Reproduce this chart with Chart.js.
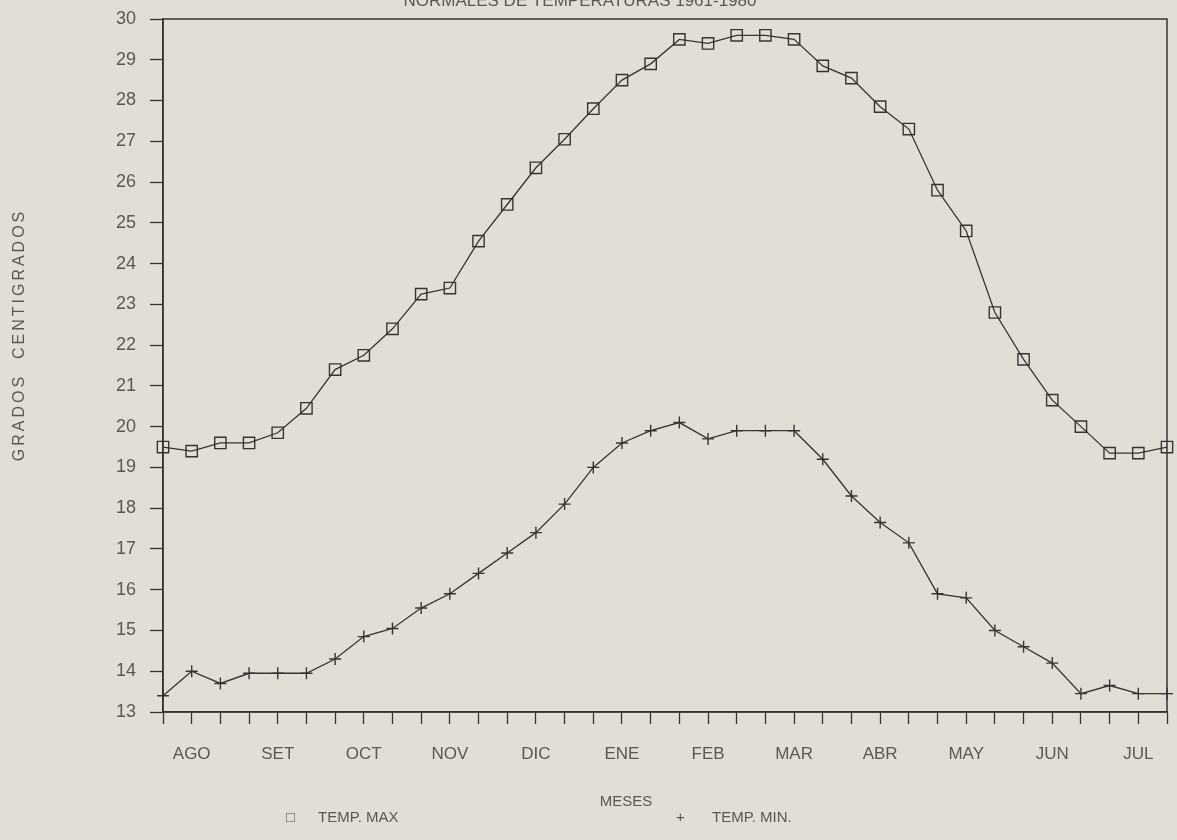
<!DOCTYPE html>
<html>
<head>
<meta charset="utf-8">
<title>Normales de temperaturas</title>
<script src="https://cdn.jsdelivr.net/npm/chart.js@4"></script>
<style>
  html, body { margin: 0; padding: 0; background: #e2ded5; }
  #chart { display: block; }
</style>
</head>
<body>
<canvas id="chart" width="1177" height="840"></canvas>
<script>
// ─── Data ─────────────────────────────────────────────────────────────────────
const months = ['AGO', 'SET', 'OCT', 'NOV', 'DIC', 'ENE', 'FEB', 'MAR', 'ABR', 'MAY', 'JUN', 'JUL'];

// three decades per month, month name sits on the middle one
const decadeLabels = months.flatMap(m => ['', m, '']);

const tempMax = [
  19.5, 19.4, 19.6, 19.6, 19.85, 20.45, 21.4, 21.75, 22.4, 23.25, 23.4, 24.55,
  25.45, 26.35, 27.05, 27.8, 28.5, 28.9, 29.5, 29.4, 29.6, 29.6, 29.5, 28.85,
  28.55, 27.85, 27.3, 25.8, 24.8, 22.8, 21.65, 20.65, 20.0, 19.35, 19.35, 19.5
];

const tempMin = [
  13.4, 14.0, 13.7, 13.95, 13.95, 13.95, 14.3, 14.85, 15.05, 15.55, 15.9, 16.4,
  16.9, 17.4, 18.1, 19.0, 19.6, 19.9, 20.1, 19.7, 19.9, 19.9, 19.9, 19.2,
  18.3, 17.65, 17.15, 15.9, 15.8, 15.0, 14.6, 14.2, 13.45, 13.65, 13.45, 13.45
];

const yTicks = [13, 14, 15, 16, 17, 18, 19, 20, 21, 22, 23, 24, 25, 26, 27, 28, 29, 30];

// ─── Style ────────────────────────────────────────────────────────────────────
const INK   = '#363432';
const TEXT  = '#5a5854';
const FONT  = "'Liberation Sans', Arial, sans-serif";

// ─── Plugins ──────────────────────────────────────────────────────────────────
const paper = {
  id: 'paper',
  beforeDraw(chart) {
    const { ctx, width, height } = chart;
    ctx.save();
    ctx.fillStyle = '#e2ded5';
    ctx.fillRect(0, 0, width, height);
    ctx.restore();
  },
  afterDatasetsDraw(chart) {
    // frame round the plot
    const { ctx, chartArea: a } = chart;
    ctx.save();
    ctx.strokeStyle = INK;
    ctx.lineWidth = 1.5;
    ctx.strokeRect(a.left, a.top, a.right - a.left, a.bottom - a.top);
    ctx.restore();
  },
  afterDraw(chart) {
    const { ctx } = chart;
    ctx.save();
    ctx.fillStyle = TEXT;
    ctx.textBaseline = 'alphabetic';

    // title, cut by the top edge of the page
    ctx.textAlign = 'center';
    ctx.font = `17px ${FONT}`;
    ctx.fillText('NORMALES DE TEMPERATURAS 1961-1980', 580, 6);

    // x axis title
    ctx.font = `15px ${FONT}`;
    ctx.fillText('MESES', 626, 806);

    // legend
    const ds = chart.data.datasets;
    ctx.textAlign = 'left';
    ctx.font = `15px ${FONT}`;
    ctx.fillText('\u25A1', 286, 822);
    ctx.fillText(ds[0].label, 318, 822);
    ctx.fillText('+', 676, 822);
    ctx.fillText(ds[1].label, 712, 822);

    // y axis title
    ctx.translate(24, 335);
    ctx.rotate(-Math.PI / 2);
    ctx.textAlign = 'center';
    ctx.font = `16px ${FONT}`;
    ctx.letterSpacing = '3px';
    ctx.fillText('GRADOS  CENTIGRADOS', 0, 0);
    ctx.restore();
  }
};

// ─── Chart ────────────────────────────────────────────────────────────────────
new Chart(document.getElementById('chart'), {
  type: 'line',
  data: {
    labels: decadeLabels,
    datasets: [
      {
        label: 'TEMP. MAX',
        data: tempMax,
        borderColor: INK,
        borderWidth: 1.3,
        pointStyle: 'rect',
        pointRadius: 8,
        pointBorderWidth: 1.4,
        pointBorderColor: INK,
        pointBackgroundColor: 'rgba(0,0,0,0)',
        tension: 0,
      },
      {
        label: 'TEMP. MIN.',
        data: tempMin,
        borderColor: INK,
        borderWidth: 1.3,
        pointStyle: 'cross',
        pointRadius: 6,
        pointBorderWidth: 1.4,
        pointBorderColor: INK,
        tension: 0,
      }
    ]
  },
  options: {
    responsive: false,
    animation: false,
    layout: { padding: { left: 0, top: 19, right: 10, bottom: 0 } },
    plugins: {
      legend: { display: false },
      tooltip: { enabled: false },
    },
    scales: {
      x: {
        type: 'category',
        offset: false,
        afterFit: s => {
          s.height = 128;
          s.paddingLeft = 0;
          s.paddingRight = 0;
        },
        grid: {
          drawOnChartArea: false,
          drawTicks: true,
          tickLength: 12,
          tickColor: INK,
          tickWidth: 1.3,
        },
        border: { display: true, color: INK, width: 1.5 },
        ticks: {
          autoSkip: false,
          maxRotation: 0,
          padding: 20,
          color: TEXT,
          font: { family: FONT, size: 17 },
        }
      },
      y: {
        min: 13,
        max: 30,
        afterFit: s => {
          s.width = 163;
          s.paddingTop = 0;
          s.paddingBottom = 0;
        },
        afterBuildTicks: s => { s.ticks = yTicks.map(v => ({ value: v })); },
        grid: {
          drawOnChartArea: false,
          drawTicks: true,
          tickLength: 13,
          tickColor: INK,
          tickWidth: 1.3,
        },
        border: { display: true, color: INK, width: 1.5 },
        ticks: {
          padding: 14,
          color: TEXT,
          font: { family: FONT, size: 18 },
        }
      }
    }
  },
  plugins: [paper]
});
</script>
</body>
</html>
